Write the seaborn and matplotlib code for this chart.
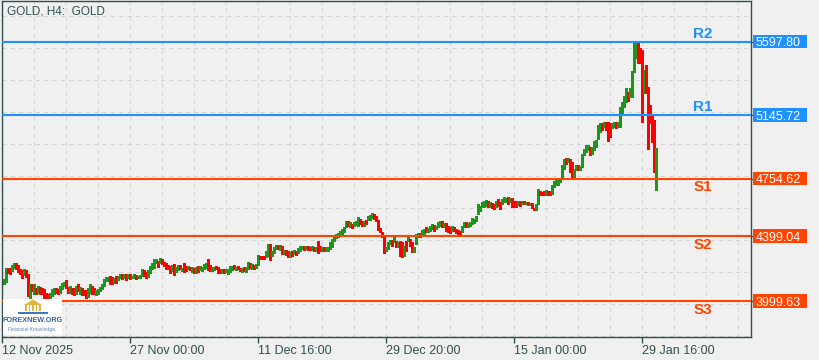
import numpy as np
import pandas as pd
import seaborn as sns
import matplotlib
matplotlib.use("Agg")
import matplotlib.pyplot as plt
from matplotlib.patches import Rectangle, Polygon
from matplotlib.transforms import blended_transform_factory

# H4 bars, open / close (oldest first)
opens = [
    4107, 4119, 4206, 4202, 4185, 4202, 4237, 4222, 4196, 4189, 4158, 4189, 4165, 4020, 4107, 4045,
    4082, 4051, 4086, 4078, 4072, 4051, 4045, 4020, 4030, 4045, 4078, 4072, 4051, 4072, 4092, 4127,
    4086, 4051, 4082, 4082, 4045, 4103, 4045, 4082, 4065, 4065, 4024, 4051, 4092, 4082, 4036, 4045,
    4061, 4072, 4092, 4123, 4123, 4154, 4148, 4113, 4154, 4127, 4140, 4165, 4140, 4165, 4140, 4165,
    4140, 4144,
    4158, 4144, 4144, 4154, 4191, 4179, 4150, 4175, 4200, 4206, 4233, 4247, 4237, 4258, 4241, 4237,
    4220, 4216, 4185, 4227, 4179, 4191, 4220, 4185, 4237, 4216, 4196, 4212, 4179, 4206, 4175, 4216,
    4191, 4185, 4196, 4206, 4258, 4220, 4185, 4191, 4216, 4212, 4200, 4175, 4196, 4179, 4165, 4179,
    4191, 4220, 4191, 4216, 4206, 4179, 4212, 4179, 4200, 4237, 4196, 4220, 4206, 4220, 4278, 4278,
    4278, 4272, 4278, 4351, 4278, 4293, 4320, 4346, 4313, 4340, 4289, 4313, 4305, 4272, 4309, 4289,
    4309, 4293, 4305, 4320, 4340, 4320, 4340, 4334, 4313, 4334, 4309, 4371, 4340, 4305, 4330, 4309,
    4309, 4320, 4330, 4371, 4388, 4396, 4402, 4412, 4423, 4454, 4495, 4458, 4474, 4464, 4470, 4464,
    4505, 4491, 4464, 4499, 4499, 4499, 4512, 4536, 4526, 4499, 4450, 4423, 4396, 4309, 4320, 4351,
    4375, 4361,
    4371, 4330, 4367, 4361, 4278, 4371, 4367, 4382, 4361, 4299, 4351, 4392, 4417, 4412,
    4413, 4454, 4423, 4433, 4444, 4470, 4444, 4454, 4464, 4495, 4454, 4479, 4464, 4458, 4433, 4454,
    4444, 4437, 4433, 4423, 4454, 4485, 4458, 4464, 4475, 4479, 4491, 4537, 4557, 4578, 4578, 4588,
    4619, 4578, 4603, 4598, 4578, 4629, 4609, 4598, 4609, 4609, 4640, 4609, 4636, 4619, 4619, 4594,
    4619, 4598,
    4619, 4600, 4612, 4590, 4605, 4575, 4560,
    4600, 4675, 4671, 4675, 4654, 4675, 4675, 4660, 4701, 4712, 4716, 4732, 4764, 4815, 4881, 4856,
    4873, 4856, 4757, 4805, 4836, 4805, 4825, 4898, 4918, 4929, 4949, 4908, 4929, 4949, 4997, 5042,
    5094, 5073, 5100, 5100, 5094, 5063, 5073, 5100, 5073, 5073, 5150, 5197, 5228, 5290, 5259, 5259,
    5414, 5497, 5600, 5559, 5548, 5280, 5455, 5321, 5207, 5145, 5114, 4795,
]
closes = [
    4134, 4206, 4175, 4169, 4222, 4237, 4196, 4181, 4165, 4144, 4196, 4148, 4030, 4103, 4061, 4103,
    4045, 4092, 4045, 4045, 4016, 4016, 4016, 4051, 4072, 4082, 4051, 4045, 4092, 4113, 4119, 4082,
    4051, 4092, 4041, 4036, 4092, 4061, 4086, 4036, 4034, 4020, 4082, 4103, 4045, 4041, 4065, 4072,
    4086, 4103, 4134, 4148, 4148, 4107, 4103, 4144, 4113, 4154, 4165, 4134, 4165, 4129, 4165, 4134,
    4154, 4165,
    4138, 4154, 4158, 4196, 4154, 4144, 4191, 4216, 4233, 4258, 4258, 4212, 4262, 4227, 4216, 4196,
    4196, 4175, 4220, 4158, 4212, 4220, 4200, 4206, 4179, 4185, 4216, 4191, 4212, 4175, 4212, 4179,
    4216, 4212, 4227, 4237, 4191, 4185, 4212, 4212, 4196, 4175, 4171, 4196, 4171, 4200, 4196, 4216,
    4216, 4196, 4212, 4196, 4185, 4206, 4185, 4212, 4241, 4206, 4227, 4200, 4227, 4282, 4258, 4258,
    4258, 4309, 4351, 4251, 4309, 4330, 4346, 4320, 4346, 4289, 4313, 4284, 4268, 4299, 4278, 4313,
    4284, 4326, 4340, 4340, 4313, 4340, 4313, 4313, 4340, 4305, 4334, 4293, 4305, 4330, 4305, 4330,
    4334, 4361, 4381, 4402, 4412, 4417, 4429, 4443, 4454, 4491, 4464, 4485, 4450, 4485, 4495, 4520,
    4474, 4464, 4491, 4474, 4526, 4532, 4541, 4505, 4491, 4437, 4423, 4392, 4293, 4330, 4361, 4375,
    4340, 4392,
    4334, 4361, 4278, 4268, 4340, 4309, 4392, 4340, 4299, 4330, 4412, 4417, 4396, 4437,
    4444, 4423, 4450, 4464, 4475, 4433, 4464, 4485, 4495, 4454, 4479, 4433, 4423, 4417, 4464, 4429,
    4417, 4408, 4402, 4464, 4485, 4458, 4479, 4485, 4512, 4505, 4526, 4598, 4588, 4609, 4619, 4623,
    4578, 4609, 4574, 4567, 4619, 4588, 4567, 4629, 4640, 4636, 4598, 4636, 4578, 4578, 4582, 4619,
    4588, 4619,
    4600, 4612, 4590, 4605, 4575, 4560, 4600,
    4687, 4650, 4650, 4650, 4681, 4654, 4650, 4712, 4737, 4743, 4753, 4757, 4840, 4877, 4846, 4881,
    4795, 4757, 4815, 4836, 4805, 4830, 4908, 4939, 4964, 4964, 4898, 4949, 4984, 4991, 5083, 5094,
    5053, 5100, 5053, 4984, 5011, 5094, 5100, 5063, 5104, 5197, 5228, 5265, 5311, 5232, 5311, 5418,
    5600, 5600, 5466, 5466, 5100, 5424, 5280, 4939, 5094, 4980, 4795, 4943,
]
last_bar_low = 4681

level_names = ["R2", "R1", "S1", "S2", "S3"]
level_values = [5597.80, 5145.72, 4754.62, 4399.04, 3999.63]

tick_labels = ["12 Nov 2025", "27 Nov 00:00", "11 Dec 16:00", "29 Dec 20:00",
               "15 Jan 00:00", "29 Jan 16:00"]

BG = "#f0f0f0"
FRAME = "#2f4f4f"
GRID = "#d4d4d4"
BULL = "#1c961c"
BEAR = "#ff0000"
BLUE = "#1e90ff"
ORANGE = "#ff4500"

df = pd.DataFrame({"open": opens, "close": closes})
df["bar"] = np.arange(len(df))
df["bull"] = df["close"] >= df["open"]
df["lo"] = df[["open", "close"]].min(axis=1)
df["hi"] = df[["open", "close"]].max(axis=1)

sns.set_theme(style="white", rc={"axes.facecolor": BG, "figure.facecolor": BG})
plt.rcParams["font.family"] = ["Liberation Sans", "DejaVu Sans"]

W, H = 820, 360
fig = plt.figure(figsize=(W / 100, H / 100), dpi=100)
ax = fig.add_axes([2 / W, 23 / H, 749 / W, 336 / H])

px = 6.163  # price per pixel
y_top = level_values[0] + 40.7 * px
y_bot = level_values[0] - 295.3 * px
ax.set_ylim(y_bot, y_top)
ax.set_xlim(-1.15, 373.35)

# grid
for gy in np.arange(level_values[0] + 26 * px, y_bot, -32 * px):
    ax.axhline(gy, color=GRID, lw=0.75, ls=(0, (4, 4)), zorder=0)
for gx in np.arange(-0.9, 373, 16):
    ax.axvline(gx, color=GRID, lw=0.75, ls=(0, (4, 4)), zorder=0)

# candles
cols = np.where(df["bull"], BULL, BEAR)
ax.vlines(df["bar"], df["lo"], df["hi"], colors=cols, lw=0.75, antialiased=False, zorder=2)
last = df.iloc[-1]
ax.vlines(last["bar"], last_bar_low, last["lo"], colors=BULL, lw=0.75, antialiased=False,
          zorder=2)

# support / resistance levels
blend = blended_transform_factory(fig.transFigure, ax.transData)
for name, val in zip(level_names, level_values):
    c = BLUE if name.startswith("R") else ORANGE
    ax.axhline(val, color=c, lw=1.5, zorder=3)
    dy = 8 * px if name.startswith("R") else -8.7 * px
    ax.text(0.936, val + dy, name, transform=ax.get_yaxis_transform(), ha="center",
            va="center", fontsize=11, fontweight="bold", color=c, zorder=4)
    fig.patches.append(Rectangle((753 / W, val - 6.7 * px), 54 / W, 13.6 * px,
                                 transform=blend, facecolor=c, edgecolor="none"))
    fig.text(756 / W, val, f"{val:.2f}", transform=blend, ha="left", va="center_baseline",
             fontsize=9, color="white")

# axes styling
for s in ax.spines.values():
    s.set_color(FRAME)
    s.set_linewidth(1.0)
ax.set_xticks(np.arange(len(tick_labels)) * 64 - 0.9)
ax.set_xticklabels(tick_labels, ha="left", fontsize=9, color=FRAME)
ax.tick_params(axis="x", direction="out", length=4, width=1, color=FRAME, pad=1.5,
               bottom=True)
ax.yaxis.tick_right()
ax.set_yticks(level_values)
ax.set_yticklabels([])
ax.tick_params(axis="y", direction="out", length=3, width=1, color=FRAME, right=True)

fig.text(7 / W, 1 - 11.5 / H, "GOLD, H4:  GOLD", fontsize=8.5, color=FRAME, va="center")

# watermark logo
fig.patches.append(Rectangle((3 / W, 1 - 335 / H), 59 / W, 36 / H, transform=fig.transFigure,
                             facecolor="white", edgecolor="none", zorder=5))
fig.patches.append(Polygon([(24 / W, 1 - 305 / H), (33 / W, 1 - 299.5 / H), (42 / W, 1 - 305 / H)],
                           closed=True, transform=fig.transFigure, facecolor="#e8b339",
                           edgecolor="none", zorder=6))
for cx in [26, 29.5, 33, 36.5, 40]:
    fig.patches.append(Rectangle(((cx - 0.8) / W, 1 - 311 / H), 1.6 / W, 6 / H,
                                 transform=fig.transFigure, facecolor="#e8b339",
                                 edgecolor="none", zorder=6))
fig.patches.append(Rectangle((18 / W, 1 - 314 / H), 30 / W, 2.5 / H, transform=fig.transFigure,
                             facecolor="#3a78c2", edgecolor="none", zorder=6))
fig.text(32.5 / W, 1 - 321 / H, "FOREXNEW.ORG", fontsize=5.2, fontweight="bold",
         color="#2d63b0", ha="center", va="center", zorder=7,
         family=["Liberation Sans Narrow", "Liberation Sans"])
fig.text(32.5 / W, 1 - 329.5 / H, "Financial Knowledge.", fontsize=3.6, color="#5a86b8",
         ha="center", va="center", zorder=7)

fig.savefig("out.png", dpi=100, facecolor=BG)
